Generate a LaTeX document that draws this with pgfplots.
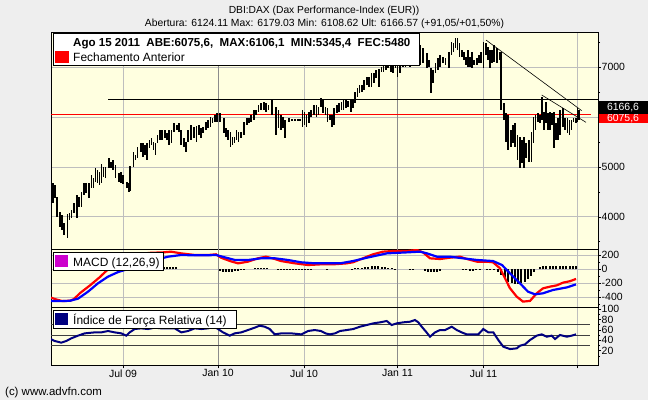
\documentclass[border=0pt]{standalone}
\usepackage{pgfplots}
\usepackage{pgfplotstable}
\pgfplotsset{compat=1.18}
\usepackage{fontspec}
\setmainfont{Liberation Sans}
\definecolor{bgout}{RGB}{238,238,238}
\definecolor{bgplot}{RGB}{255,255,224}
\definecolor{gridl}{RGB}{190,190,190}
\definecolor{gridd}{RGB}{140,140,140}
\definecolor{rsiblue}{RGB}{0,0,128}
\definecolor{macdmag}{RGB}{204,0,204}

\pgfplotstableread{
x h l
52.7 4672 4284
54.7 4638 4371
56.7 4404 4003
60 4103 3803
62 4037 3736
64 3869 3635
67.3 4057 3568
69.3 4070 3936
71.3 4137 3970
74 4271 4070
76.7 4438 3970
78.7 4404 4204
81.3 4505 4204
84 4672 4438
86 4672 4471
88.7 4672 4371
91.3 4839 4572
93.3 4772 4572
95.3 4973 4705
97.3 4939 4672
99.3 4906 4638
101.3 5060 4672
103.3 5006 4806
105.3 5006 4772
108.7 5173 4973
110.7 5106 4973
112.7 5140 4939
115.3 5040 4772
118.7 4872 4705
120.7 4906 4672
122.7 4839 4658
126.7 4705 4572
128.7 4672 4505
130 5020 4525
133.3 5307 5006
135.3 5240 5140
137.3 5394 5173
140.7 5474 5307
142.7 5474 5207
144.7 5441 5240
146.7 5474 5140
149.3 5541 5374
151.3 5575 5441
153.3 5508 5341
155.3 5474 5240
157.3 5641 5474
160 5742 5541
162 5742 5541
164.7 5742 5575
166.7 5675 5541
168.7 5742 5441
171.3 5742 5474
174 5875 5708
176.7 5842 5742
178.7 5875 5708
180.7 5742 5441
184 5575 5407
186 5508 5307
188 5742 5508
191 5843 5542
193.7 5809 5575
196.3 5823 5508
199 5843 5642
201 5776 5575
203 5809 5676
205.7 5910 5743
207.7 5943 5776
210.3 5997 5796
212.3 5977 5876
215 6044 5910
217 6090 5910
219.7 6077 5910
223.7 5977 5676
225.7 5776 5609
227.7 5743 5542
230.3 5709 5408
232.3 5609 5442
234.3 5609 5475
236.3 5743 5542
238.3 5709 5508
241 5709 5575
243.7 5910 5642
247 5977 5843
249 5977 5876
251 6044 5910
253.7 6144 5943
255.7 6144 6044
258.3 6244 6110
261 6277 6144
263.7 6311 6144
265.7 6277 6110
268.3 6244 6144
271.7 6344 6044
275.7 6211 5642
278.3 6144 5776
281 6044 5743
283 6010 5776
285 5943 5575
289 5977 5910
292 5960 5935
295 5960 5935
298 5960 5935
300 5960 5935
302.3 6144 5809
304.3 6110 5843
306.3 6044 5796
309 6110 5876
311 6144 6010
313.7 6244 6044
316.3 6244 6010
318.3 6211 6044
321 6378 6211
323 6344 6077
325.3 6210 6043
327.3 6177 5909
330 6043 5943
332 6043 5809
334 6177 5842
336.7 6243 6076
338.7 6290 6110
341.3 6310 6143
343.3 6344 6143
346 6344 6177
348 6330 6210
350.7 6344 6110
352.7 6344 6177
354.7 6511 6277
357.3 6578 6411
359.3 6645 6477
362 6645 6511
364 6745 6544
366.7 6812 6645
368.7 6812 6611
371.3 6879 6611
374 6879 6678
376 6946 6778
378.7 6959 6611
381.3 7012 6912
383.3 7026 6912
386 7079 6946
388 7113 6979
390.7 7146 6912
392.7 7113 6879
395.3 7180 6979
397.3 7180 6812
400 7113 6879
402.7 7146 7012
405.3 7146 7012
408 7180 7046
410 7213 7012
413 7300 7050
416 7350 7100
420 7447 7046
422.7 7380 7079
426.7 7280 6979
428.7 7146 7012
430.7 6979 6478
432.7 6946 6678
435.3 7079 6879
438 7180 6946
440 7246 7012
442.7 7213 7079
445.3 7180 7046
448.7 7313 6979
451.3 7514 7246
453.3 7481 7313
455.3 7581 7380
457.3 7581 7347
459.3 7481 7213
462 7347 7213
464 7313 7146
466 7213 7046
468 7347 7012
470 7213 7012
472 7313 6979
474 7146 7046
476.7 7180 7046
478.7 7246 7079
480.7 7313 7079
483.3 7514 6979
486 7481 7246
488 7414 7146
490 7347 6979
492 7347 7079
494 7447 7113
496.7 7380 7079
499.3 7313 7146
500.7 7313 6143
504 6277 5943
506 6076 5508
508 6043 5341
510.7 5742 5408
512.7 5842 5474
514.7 5876 5408
517.3 5642 5140
520 5608 4973
522 5541 5073
524 5608 4973
526 5474 5173
528.7 5541 5107
531.3 5709 5107
533.3 6009 5474
535.3 6043 5742
538 6076 5909
540 6043 5876
542 6411 5943
544 6110 5742
546 6310 5876
548 6076 5742
550 6110 5742
552 6076 5842
554 6110 5374
556 5876 5541
558 5976 5541
560 6143 5642
562.7 6177 5809
564.7 5976 5742
567.3 5976 5675
569.3 5943 5642
571.3 5943 5742
573.3 5976 5909
576 5976 5876
577.3 6177 5909
578.7 6143 5943
}\bars

\pgfplotstableread{
x v
51 -405
56 -430
62 -453
70 -450
74 -425
80 -340
85 -285
90 -230
95 -170
100 -110
105 -40
110 20
115 80
120 130
130 190
140 220
150 235
163 242
171 252
181 228
195 204
208 204
216 214
221 166
230 118
238 85
248 109
258 157
266 180
275 147
281 118
295 85
308 61
321 71
333 71
346.7 85
353 100
363 157
373 214
383 252
393 261
407 261
417 276
423 242
430 157
440 147
450 166
460 180
467 147
477 109
487 109
493 100
500 14
505 -129
510 -272
516.7 -391
523 -462
530 -452
536.7 -343
543 -272
550 -248
556.7 -230
563 -191
570 -170
576 -138
}\macdred

\pgfplotstableread{
x v
51 -453
62 -455
70 -450
78 -420
88 -320
98 -200
108 -105
118 -40
128 4
141 61
155 133
168 180
181 204
195 200
208 200
216 205
225 170
235 133
248 133
261 157
275 157
288 133
301 100
315 85
328 85
340 85
353 118
367 166
387 228
407 242
420 252
427 228
437 180
450 180
463 157
477 133
493 118
502 61
510 -58
520 -201
528 -320
535 -358
543 -343
553 -296
567 -258
576 -215
}\macdblue

\pgfplotstableread{
x v
164 30
167 30
170 30
173 30
176 30
220 -25
223 -35
226 -40
229 -40
232 -35
235 -30
238 -20
241 -15
244 -10
255 20
258 25
261 25
264 20
267 15
278 -10
281 -15
284 -15
287 -15
290 -15
293 -15
296 -15
299 -15
302 -15
305 -15
308 -10
311 -10
327 2
352 10
355 15
358 20
362 25
365 30
368 35
372 40
375 45
378 40
382 35
385 30
388 25
392 15
395 10
410 5
413 5
425 -20
428 -35
431 -40
434 -40
437 -35
440 -25
463 -10
466 -15
470 -20
473 -20
476 -15
480 -10
487 -3
490 -5
494 -5
498 -33
501 -81
505 -129
508 -176
512 -200
515 -215
518 -215
521 -200
525 -176
528 -140
531 -100
534 -45
540 30
543 40
546 45
550 45
553 45
556 40
560 40
563 45
566 45
570 45
573 45
576 50
}\macdhist

\pgfplotstableread{
x v
50.7 42.5
54.7 38.7
61.3 35.5
66.3 38.7
71.3 43.8
78 48.9
84.7 53.3
94.7 55.2
101.3 55.2
108 57.8
114.7 55.2
121.3 53.3
126.3 48.9
129.7 55.2
134.7 61.6
141.3 62.9
148 61.6
154.7 64.2
161.3 62.9
168 62.9
174.7 62.9
181.3 55.2
188 57.8
194.7 62.9
201.3 61.6
208 62.9
214.7 66.1
218 61.6
223 55.2
229.7 48.9
234.7 53.3
241.3 55.2
248 59.7
254.7 64.2
259.7 68
264.7 66.1
269.7 61.6
274.7 51.4
281.3 53.3
291.3 53.3
301.3 51.4
308 57.8
314.7 59.7
321 57.8
326 53
330 51.4
335 53.3
340 57.8
346.7 59.7
353.3 61.6
360 66.1
366.7 69.3
373.3 72.5
380 74.4
386.7 77
391.7 69.3
396.7 72.5
403.3 74.4
410 75.6
415 78.8
418.3 74.4
421.7 66.1
426 56.5
430 46.9
435 55.2
440 59.7
445 59.7
451.7 66.1
456.7 59.7
461.7 55.2
466.7 51.4
473.3 51.4
478.3 51.4
483.3 61.6
488.3 55.2
493.3 55.2
498.3 40.6
503.3 27.8
510 23.3
516.7 24.6
520 29.7
525 32.3
530 40.6
536.7 48.9
541.7 51.4
546.7 46.9
551.7 48.9
555 42.5
560 50.2
566.7 46.9
571.7 48.9
576 51.4
}\rsi

\pgfplotsset{
  panel/.style={
    anchor=south west, scale only axis, width=547bp,
    xmin=51, xmax=598,
    axis background/.style={fill=bgplot},
    axis line style={black, line width=1bp},
    xtick={123,304,483.5,577},
    extra x ticks={218,397.5},
    extra x tick style={xmajorgrids=true, major grid style={gridd, line width=0.8bp}},
    xmajorgrids,
    major grid style={gridl, line width=0.8bp},
    xtick pos=bottom, ytick pos=right, yticklabel pos=right,
    tick align=outside,
    major tick length=3bp, minor tick length=2bp,
    tick style={black, line width=0.6bp},
    ticklabel style={font=\fontsize{10.5}{12}\selectfont},
    yticklabel style={anchor=west, inner sep=0.5bp},
    xticklabel style={inner sep=1bp},
  }
}

\begin{document}
\begin{tikzpicture}[x=1bp,y=1bp]
\fill[bgout] (0,0) rectangle (648,400);
\useasboundingbox (0,0) rectangle (648,400);

% main price panel
\begin{axis}[panel, at={(51bp,151bp)}, height=216bp,
  ymin=3355, ymax=7688,
  ytick={4000,5000,6000,7000}, yticklabels={4000,5000,6000,7000},
  minor ytick={3500,4500,5500,6500,7500},
  ymajorgrids,
  xticklabels={}, extra x tick labels={}]
\addplot[red, line width=1bp] coordinates {(51,6058) (591,6058)};
\addplot[black, line width=0.9bp] coordinates {(108,6358) (598,6358)};
\addplot[draw=none, mark=none,
  error bars/.cd, y dir=both, y explicit, error mark=none,
  error bar style={draw=black, line width=1.6bp}]
  table[x=x, y expr={(\thisrow{h}+\thisrow{l})/2}, y error expr={(\thisrow{h}-\thisrow{l})/2}] {\bars};
\addplot[black, line width=0.6bp] coordinates {(486,7547) (581.7,6130)};
\addplot[black, line width=0.6bp] coordinates {(541.7,6444) (586,5896)};
\end{axis}

% MACD panel
\begin{axis}[panel, at={(51bp,92.3bp)}, height=58.7bp,
  ymin=-549, ymax=290,
  ytick={-400,-200,0,200}, yticklabels={-400,-200,0,200},
  minor ytick={-500,-300,-100,100},
  ymajorgrids,
  xticklabels={}, extra x tick labels={}]
\addplot[ycomb, black, line width=1.6bp, mark=none] table[x=x,y=v] {\macdhist};
\addplot[red, line width=2.2bp, mark=none] table[x=x,y=v] {\macdred};
\addplot[blue, line width=2.2bp, mark=none] table[x=x,y=v] {\macdblue};
\end{axis}

% RSI panel
\begin{axis}[panel, at={(51bp,34.7bp)}, height=57.6bp,
  ymin=-7.8, ymax=102.4,
  ytick={20,40,60,80,100}, yticklabels={20,40,60,80,100},
  minor ytick={10,30,50,70,90},
  xticklabels={Jul 09,Jul 10,Jul 11,{}}, extra x tick labels={Jan 10,Jan 11}]
\addplot[black!75, line width=0.9bp] coordinates {(51,70) (590,70)};
\addplot[black!75, line width=0.9bp] coordinates {(51,50) (590,50)};
\addplot[black!75, line width=0.9bp] coordinates {(51,30) (590,30)};
\addplot[rsiblue, line width=2bp, mark=none] table[x=x,y=v] {\rsi};
\end{axis}

% titles
\node[anchor=base, font=\fontsize{10.3}{12}\selectfont, inner sep=0] at (324,387) {DBI:DAX (Dax Performance-Index (EUR))};
\node[anchor=base, font=\fontsize{10.4}{12}\selectfont, inner sep=0] at (324.5,374) {Abertura: 6124.11 Max: 6179.03 Min: 6108.62 Ult: 6166.57 (+91,05/+01,50\%)};
\node[anchor=base west, font=\fontsize{11.5}{12}\selectfont, inner sep=0] at (5,5) {(c) www.advfn.com};

% main legend
\filldraw[fill=white, draw=black, line width=0.8bp] (53,335) rectangle (419,367);
\fill[red] (55,337) rectangle (69,349);
\node[anchor=base west, font=\bfseries\fontsize{11.6}{14}\selectfont, inner sep=0] at (73,354) {Ago 15 2011\ \ ABE:6075,6,\ \ MAX:6106,1\ \ MIN:5345,4\ \ FEC:5480};
\node[anchor=base west, font=\fontsize{12}{14}\selectfont, inner sep=0] at (73,339) {Fechamento Anterior};

% MACD legend
\filldraw[fill=white, draw=black, line width=0.8bp] (53,130) rectangle (163,148);
\fill[macdmag] (55,133) rectangle (68,145);
\node[anchor=base west, font=\fontsize{12}{14}\selectfont, inner sep=0] at (73,134) {MACD (12,26,9)};

% RSI legend
\filldraw[fill=white, draw=black, line width=0.8bp] (53,72) rectangle (236,90);
\fill[rsiblue] (55,75) rectangle (68,87);
\node[anchor=base west, font=\fontsize{12}{14}\selectfont, inner sep=0] at (73,76) {Índice de Força Relativa (14)};

% right-side price boxes (the previous-close box lies partly under the last-price box, as in the source)
\fill[red] (599,277) rectangle (648,289);
\node[white, font=\fontsize{10.5}{12}\selectfont, inner sep=0] at (623,281.5) {6075,6};
\fill[black] (599,286) rectangle (648,299);
\node[white, font=\fontsize{10.5}{12}\selectfont, inner sep=0] at (623,292.5) {6166,6};
\end{tikzpicture}
\end{document}
